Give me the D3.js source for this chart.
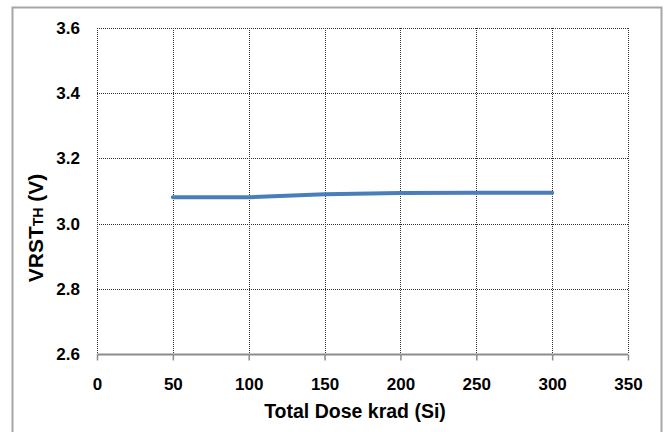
<!DOCTYPE html>
<html>
<head>
<meta charset="utf-8">
<script src="https://cdn.jsdelivr.net/npm/d3@7"></script>
<style>
  html, body { margin: 0; padding: 0; background: #fff; }
  svg { display: block; font-family: "Liberation Sans", Arial, sans-serif; }
</style>
</head>
<body>
<svg id="chart" width="668" height="432"></svg>
<script>
// Reset threshold voltage versus total ionizing dose
const doseKrad = [50, 100, 150, 200, 250, 300];
const vrstTh = [3.081, 3.081, 3.090, 3.094, 3.095, 3.095];
const xTicks = [0, 50, 100, 150, 200, 250, 300, 350];
const yTicks = [2.6, 2.8, 3.0, 3.2, 3.4, 3.6];

const svg = d3.select("#chart");
const m = { left: 97, right: 628, top: 28, bottom: 354 };

// outer chart frame
svg.append("rect")
  .attr("x", 12.5).attr("y", 7.5)
  .attr("width", 649).attr("height", 440)
  .attr("fill", "#fff")
  .attr("stroke", "#a6a6a6").attr("stroke-width", 2);

const x = d3.scaleLinear().domain([0, 350]).range([m.left, m.right]);
const y = d3.scaleLinear().domain([2.6, 3.6]).range([m.bottom, m.top]);

// dotted gridlines
const grid = svg.append("g").attr("stroke", "#333").attr("stroke-width", 1)
  .attr("stroke-dasharray", "1,1").attr("fill", "none");
grid.selectAll("line.h").data(yTicks.filter(d => d > 2.6)).join("line")
  .attr("class", "h")
  .attr("x1", m.left).attr("x2", m.right)
  .attr("y1", d => Math.round(y(d)) + 0.5).attr("y2", d => Math.round(y(d)) + 0.5);
grid.selectAll("line.v").data(xTicks).join("line")
  .attr("class", "v")
  .attr("x1", d => Math.round(x(d)) + 0.5).attr("x2", d => Math.round(x(d)) + 0.5)
  .attr("y1", m.top).attr("y2", m.bottom);

// x axis
const xAxis = d3.axisBottom(x).tickValues(xTicks).tickSize(6).tickPadding(17)
  .tickFormat(d3.format("d"));
const gx = svg.append("g")
  .attr("transform", `translate(0,${m.bottom + 0.5})`)
  .call(xAxis);
gx.select(".domain").attr("stroke", "#8c8c8c").attr("stroke-width", 2)
  .attr("d", `M${m.left},0H${m.right}`);
gx.selectAll(".tick line").attr("stroke", "#8c8c8c").attr("stroke-width", 1.5);
gx.selectAll(".tick text")
  .attr("fill", "#000").attr("font-size", 17).attr("font-weight", "bold")
  .attr("font-family", "Liberation Sans, Arial, sans-serif");

// y axis (labels only; gridlines carry the frame)
const yAxis = d3.axisLeft(y).tickValues(yTicks).tickSize(0).tickPadding(17)
  .tickFormat(d3.format(".1f"));
const gy = svg.append("g")
  .attr("transform", `translate(${m.left},0)`)
  .call(yAxis);
gy.select(".domain").remove();
gy.selectAll(".tick text")
  .attr("fill", "#000").attr("font-size", 17).attr("font-weight", "bold")
  .attr("font-family", "Liberation Sans, Arial, sans-serif");

// data line
const line = d3.line().x((d, i) => x(doseKrad[i])).y(d => y(d));
svg.append("path")
  .datum(vrstTh)
  .attr("d", line)
  .attr("fill", "none")
  .attr("stroke", "#4a7ebb")
  .attr("stroke-width", 4)
  .attr("stroke-linejoin", "round")
  .attr("stroke-linecap", "round");

// axis titles
svg.append("text")
  .attr("x", 355).attr("y", 418)
  .attr("text-anchor", "middle")
  .attr("font-size", 19.5).attr("font-weight", "bold")
  .text("Total Dose krad (Si)");

const yt = svg.append("text")
  .attr("transform", "translate(43,228) rotate(-90)")
  .attr("text-anchor", "middle")
  .attr("font-size", 21).attr("font-weight", "bold");
yt.append("tspan").text("VRST");
yt.append("tspan").attr("font-size", 14).text("TH");
yt.append("tspan").text(" (V)");
</script>
</body>
</html>
